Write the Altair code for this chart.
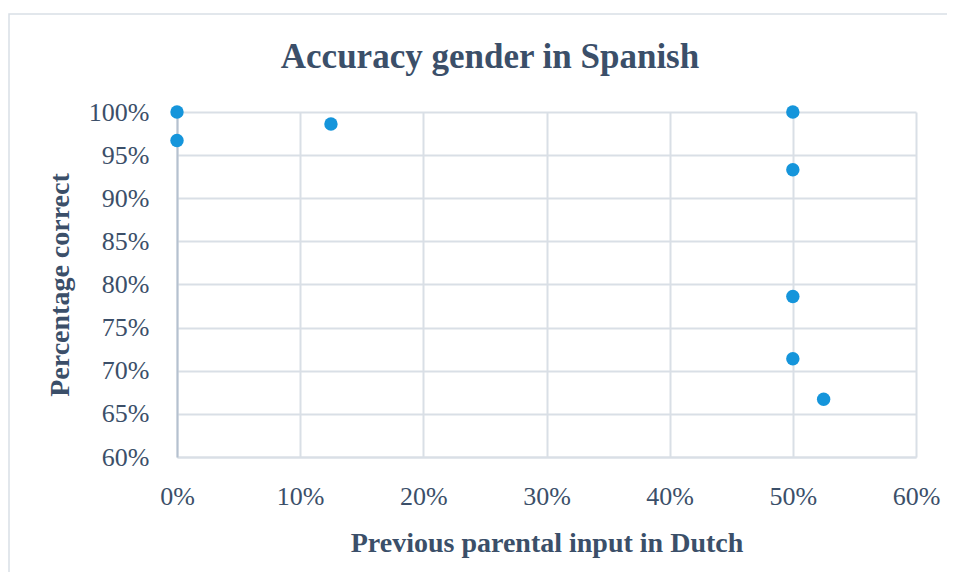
import altair as alt
import pandas as pd

# Data
dutch_input = [0.0, 0.0, 0.125, 0.50, 0.50, 0.50, 0.50, 0.525]
pct_correct = [1.00, 0.967, 0.986, 1.00, 0.933, 0.786, 0.714, 0.667]

df = pd.DataFrame({"dutch": dutch_input, "correct": pct_correct})

TEXT = "#3B4F69"
GRID = "#D9DFE6"
FONT = "Liberation Serif"

W, H = 739, 345

frame = alt.Chart(pd.DataFrame({"k": [0]})).mark_rect(
    fillOpacity=0, stroke=GRID, strokeWidth=1.5
).encode(
    x=alt.value(-168), x2=alt.value(900),
    y=alt.value(-98), y2=alt.value(700)
)

title_text = alt.Chart(pd.DataFrame({"t": ["Accuracy gender in Spanish"]})).mark_text(
    font=FONT, fontSize=35, fontWeight="bold", color=TEXT, align="center", baseline="alphabetic"
).encode(
    text="t:N", x=alt.value(313), y=alt.value(-44)
)

points = alt.Chart(df).mark_circle(size=180, color="#1595DB", opacity=1).encode(
    x=alt.X("dutch:Q", scale=alt.Scale(domain=[0, 0.6], nice=False),
            axis=alt.Axis(format=".0%", values=[0, 0.1, 0.2, 0.3, 0.4, 0.5, 0.6],
                          title="Previous parental input in Dutch",
                          labelPadding=26, titlePadding=20, labelFlush=False,
                          domainColor=GRID, domainWidth=2)),
    y=alt.Y("correct:Q", scale=alt.Scale(domain=[0.6, 1.0], nice=False, zero=False),
            axis=alt.Axis(format=".0%", values=[0.6, 0.65, 0.7, 0.75, 0.8, 0.85, 0.9, 0.95, 1.0],
                          title="Percentage correct",
                          labelPadding=28, titlePadding=14, labelFlush=False,
                          domainColor="#B5C1CF", domainWidth=2)),
)

chart = alt.layer(frame, points, title_text).properties(
    width=W, height=H,
    autosize=alt.AutoSizeParams(type="none"),
    padding={"left": 169, "top": 104, "right": 31, "bottom": 115},
).configure_view(stroke=None).configure_axis(
    grid=True, gridColor=GRID, gridWidth=2, ticks=False,
    labelFont=FONT, labelFontSize=26, labelColor=TEXT,
    titleFont=FONT, titleFontSize=28, titleFontWeight="bold", titleColor=TEXT,
)

chart.save("out.html", embed_options={"renderer": "svg", "actions": False})
